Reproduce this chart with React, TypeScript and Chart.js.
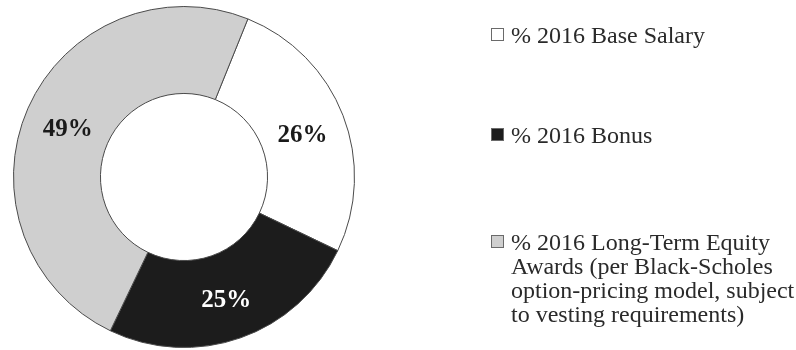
import React, { useEffect, useRef } from "react";
import { Chart, registerables } from "chart.js";

Chart.register(...registerables);

const categories = ["% 2016 Base Salary", "% 2016 Bonus", "% 2016 Long-Term Equity Awards (per Black-Scholes option-pricing model, subject to vesting requirements)"];
const legendLines = [
  ["% 2016 Base Salary"],
  ["% 2016 Bonus"],
  ["% 2016 Long-Term Equity", "Awards (per Black-Scholes", "option-pricing model, subject", "to vesting requirements)"],
];
const values = [26, 25, 49];
const sliceColors = ["#ffffff", "#1c1c1c", "#cfcfcf"];
const labelColors = ["#1a1a1a", "#ffffff", "#1a1a1a"];

const SERIF = '"Liberation Serif", "DejaVu Serif", serif';

const sliceLabels = {
  id: "sliceLabels",
  afterDatasetsDraw(chart: any) {
    const ctx = chart.ctx;
    const meta = chart.getDatasetMeta(0);
    ctx.save();
    ctx.font = `bold 25px ${SERIF}`;
    ctx.textAlign = "center";
    ctx.textBaseline = "middle";
    meta.data.forEach((arc: any, i: number) => {
      const p = arc.getCenterPoint();
      ctx.fillStyle = labelColors[i];
      ctx.fillText(`${values[i]}%`, p.x, p.y + 4);
    });
    ctx.restore();
  },
};

const sideLegend = {
  id: "sideLegend",
  afterDraw(chart: any) {
    const ctx = chart.ctx;
    const baselines = [43, 143, 250];
    const lineH = 24;
    ctx.save();
    ctx.font = `24px ${SERIF}`;
    ctx.textAlign = "left";
    ctx.textBaseline = "alphabetic";
    legendLines.forEach((lines, i) => {
      const b = baselines[i];
      ctx.fillStyle = sliceColors[i];
      ctx.strokeStyle = "#6a6a6a";
      ctx.lineWidth = 1;
      ctx.fillRect(491, b - 15, 13, 13);
      ctx.strokeRect(491.5, b - 14.5, 12, 12);
      ctx.fillStyle = "#2a2a2a";
      lines.forEach((t, j) => ctx.fillText(t, 511, b + j * lineH));
    });
    ctx.restore();
  },
};

export default function App() {
  const ref = useRef<HTMLCanvasElement>(null);
  useEffect(() => {
    document.body.style.margin = "0";
    const chart = new Chart(ref.current!, {
      type: "doughnut",
      data: {
        labels: categories,
        datasets: [
          {
            data: values,
            backgroundColor: sliceColors,
            borderColor: "#4a4a4a",
            borderWidth: 1,
          },
        ],
      },
      options: {
        responsive: false,
        animation: false,
        rotation: 22,
        cutout: "49%",
        layout: { padding: { left: 13, right: 441, top: 6, bottom: 2 } },
        plugins: { legend: { display: false }, tooltip: { enabled: false } },
      },
      plugins: [sliceLabels, sideLegend],
    });
    return () => chart.destroy();
  }, []);
  return <canvas ref={ref} width={796} height={350} style={{ display: "block" }} />;
}
